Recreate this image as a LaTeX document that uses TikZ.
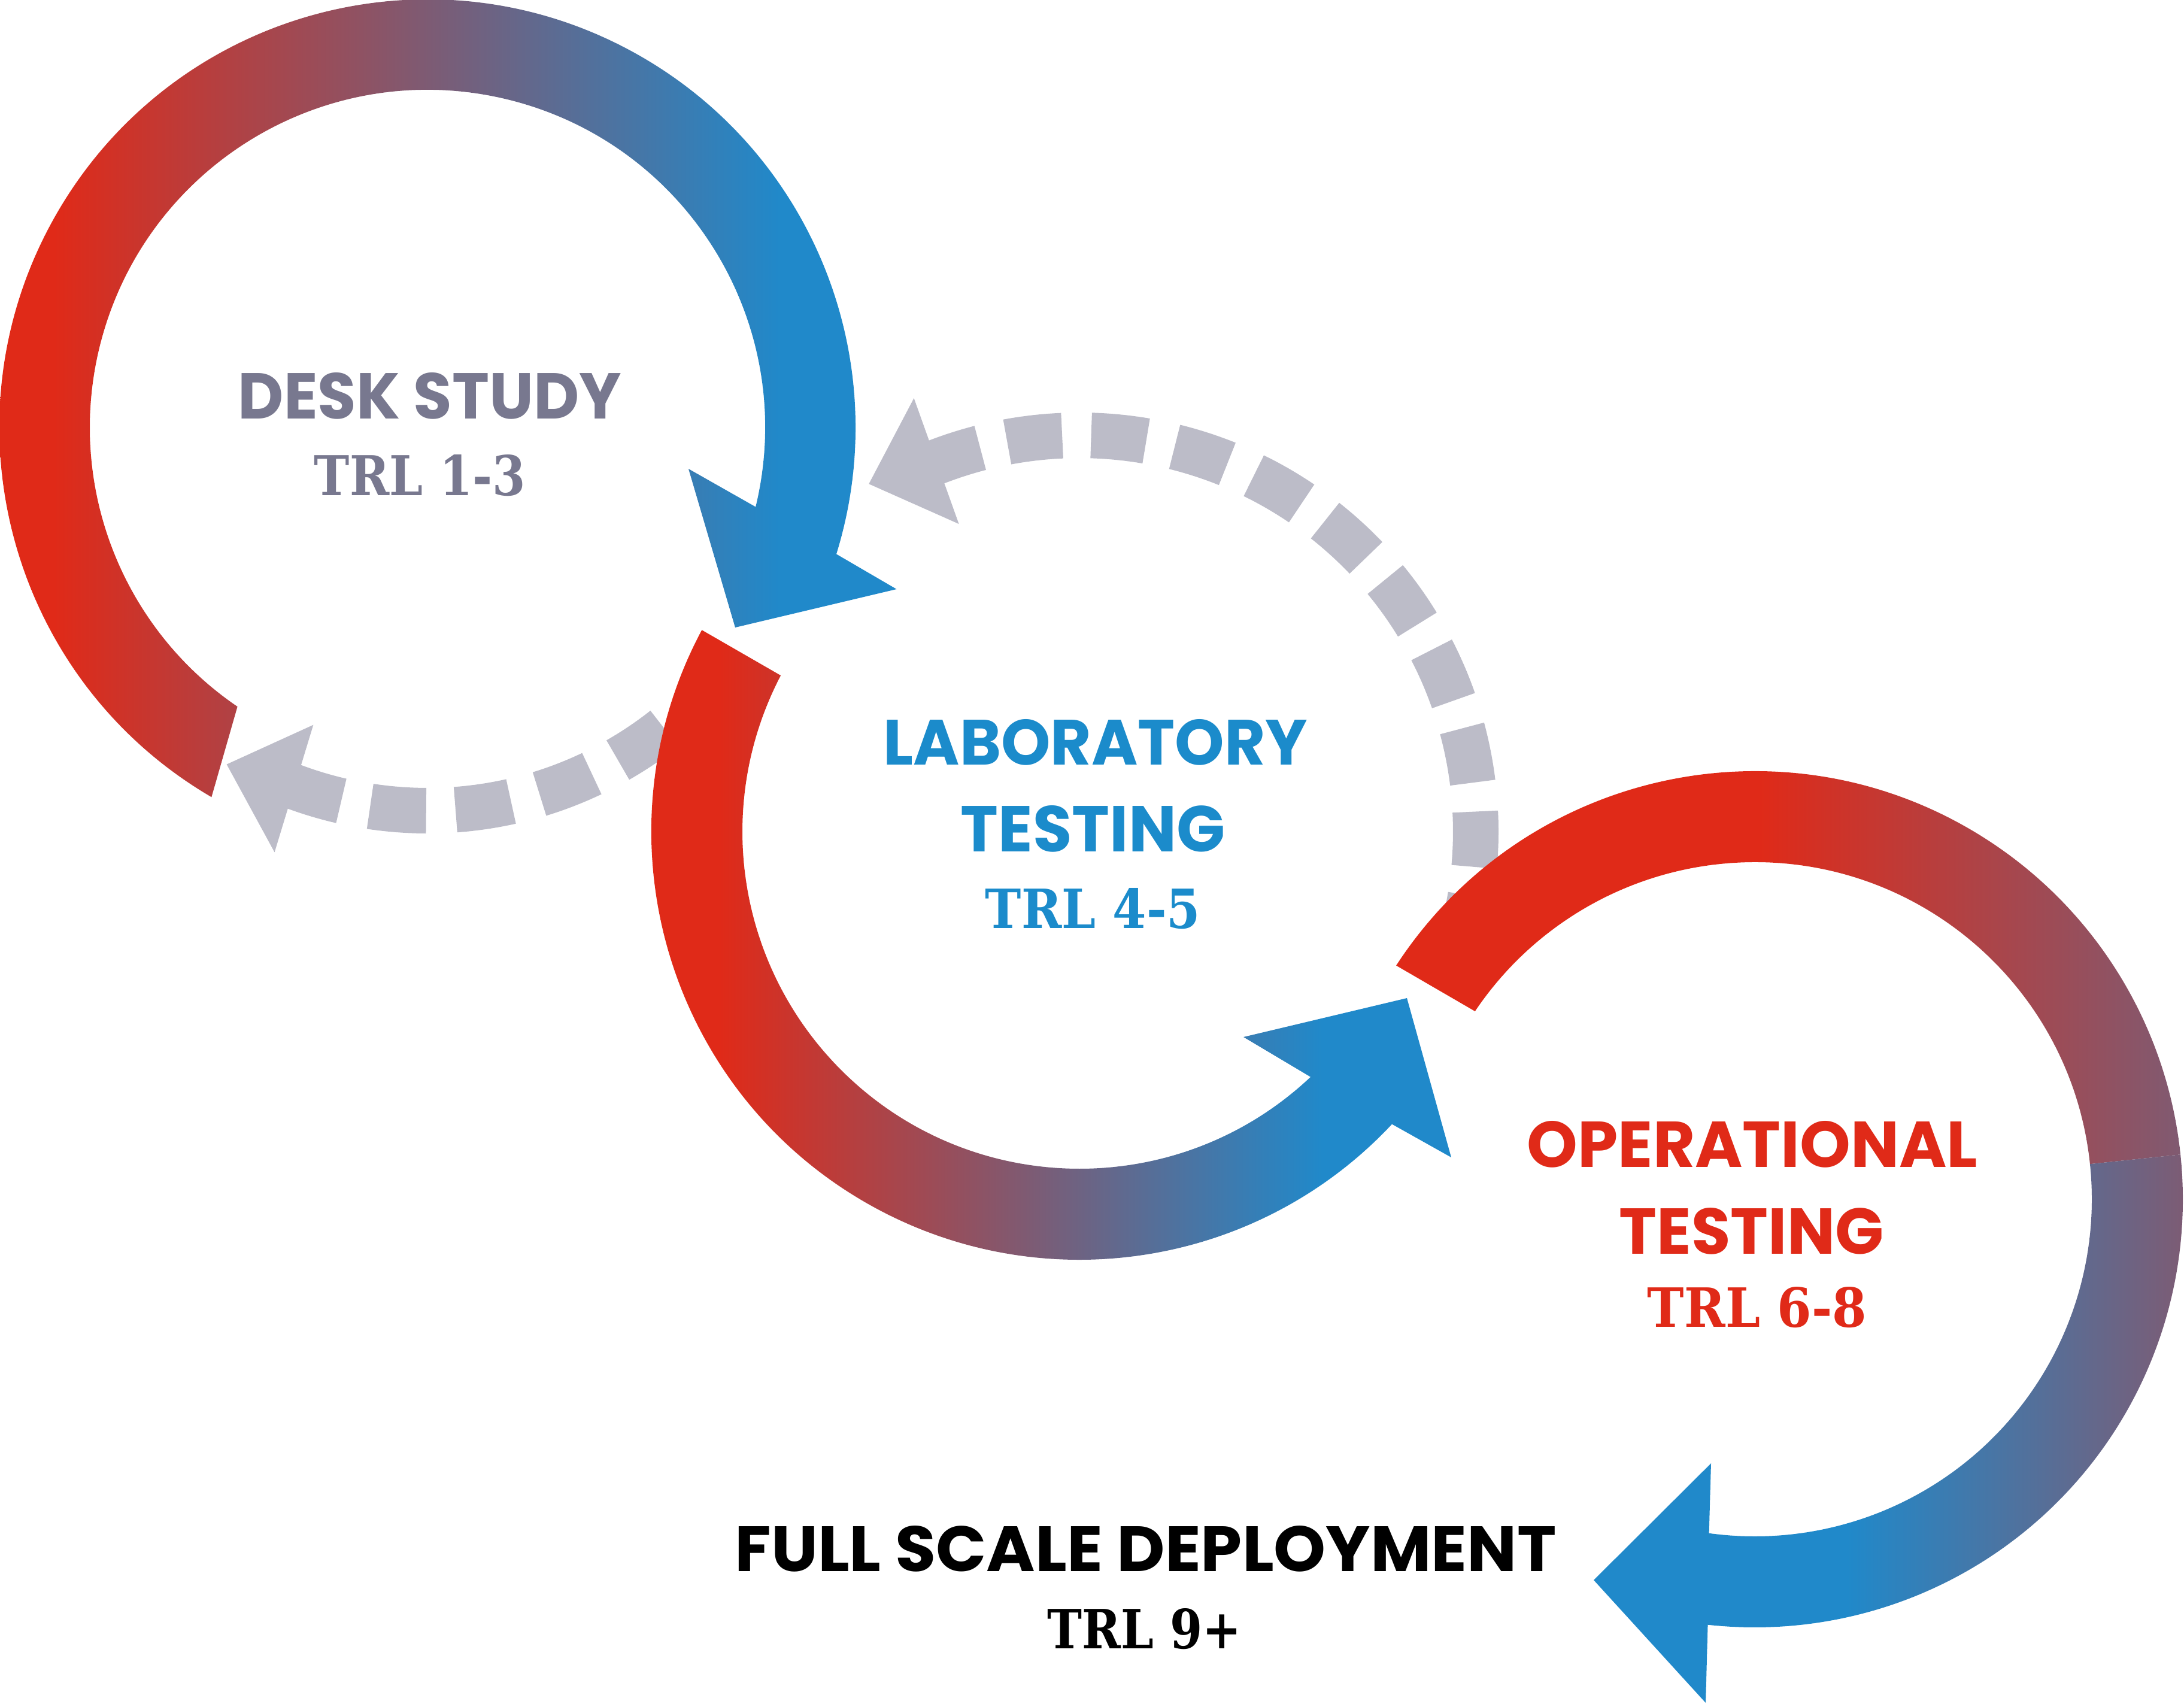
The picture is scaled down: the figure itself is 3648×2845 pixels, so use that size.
\documentclass[tikz,border=0pt]{standalone}
\usepackage{fontspec}
\usepackage{graphicx}
\usetikzlibrary{calc}
\newfontfamily\headfont{Poppins}
\newfontfamily\trlfont{DejaVu Serif}
\definecolor{myred}{RGB}{224,42,24}
\definecolor{myblue}{RGB}{32,137,202}
\definecolor{mypurple}{RGB}{128,90,113}
\definecolor{dashgrey}{RGB}{188,188,200}
\definecolor{deskgrey}{RGB}{120,120,143}
\definecolor{labblue}{RGB}{27,139,203}
\definecolor{opred}{RGB}{224,42,24}
\pgfdeclarehorizontalshading{rbone}{100bp}{color(0bp)=(myred); color(31bp)=(myred); color(69bp)=(myblue); color(100bp)=(myblue)}
\pgfdeclarehorizontalshading{rbtwo}{100bp}{color(0bp)=(myred); color(32.5bp)=(myred); color(67.5bp)=(myblue); color(100bp)=(myblue)}
\pgfdeclarehorizontalshading{cthreeup}{100bp}{color(0bp)=(myred); color(25bp)=(myred); color(48bp)=(myred); color(75bp)=(mypurple); color(100bp)=(mypurple)}
\pgfdeclarehorizontalshading{cthreelow}{100bp}{color(0bp)=(myblue); color(25bp)=(myblue); color(46bp)=(myblue); color(75bp)=(mypurple); color(100bp)=(mypurple)}
\tikzset{
  dashseg/.style={draw=dashgrey, line width=0.76cm, line cap=butt},
  headlbl/.style={inner sep=0pt, outer sep=0pt, anchor=south},
}
\begin{document}
\begin{tikzpicture}[x=0.01cm, y=0.01cm]
\useasboundingbox (0,0) rectangle (3648,-2845);
\coordinate (C1) at (714,-714);
\coordinate (C2) at (1803,-1389);
\coordinate (C3) at (2931,-2003);

% upper dashed return arrow (around C2)
\foreach \k in {0,...,9} {
  \pgfmathsetmacro\a{-(259.5+12.2*\k)}
  \pgfmathsetmacro\b{\a-8}
  \draw[dashseg] ($(C2)+(\a:662)$) arc[start angle=\a, end angle=\b, radius=662];
}
\draw[dashseg] ($(C2)+(-247.5:662)$) arc[start angle=-247.5, end angle=-255.5, radius=662];
\coordinate (ubarbA) at ($(C2)+(-249.1:775)$);
\coordinate (utip) at ($(C2)+(-238.8:679)$);
\coordinate (ubarbB) at ($(C2)+(-248.6:552)$);
\fill[dashgrey] (ubarbA) -- (utip) -- (ubarbB) -- cycle;

% lower dashed return arrow (around C1)
\foreach \k in {0,...,3} {
  \pgfmathsetmacro\a{-(51.8+12.8*\k)}
  \pgfmathsetmacro\b{\a-8.4}
  \draw[dashseg] ($(C1)+(\a:640)$) arc[start angle=\a, end angle=\b, radius=640];
}
\draw[dashseg] ($(C1)+(-103:640)$) arc[start angle=-103, end angle=-111.8, radius=640];
\coordinate (lbarbA) at ($(C1)+(-109.8:754)$);
\coordinate (ltip) at ($(C1)+(-120.8:655)$);
\coordinate (lbarbB) at ($(C1)+(-111:532)$);
\fill[dashgrey] (lbarbA) -- (ltip) -- (lbarbB) -- cycle;

% circle 1 : desk study
\coordinate (t1) at (1228,-1048);
\coordinate (b1a) at (1497.5,-984);
\coordinate (b1b) at (1150,-783);
\shade[shading=rbone] ($(C1)+(-120.3:715)$) arc[start angle=-120.3, end angle=-377.2, radius=715]
  -- (b1a) -- (t1) -- (b1b)
  -- ($(C1)+(-373.6:564)$) arc[start angle=-373.6, end angle=-124.25, radius=564] -- cycle;

% circle 2 : laboratory testing
\coordinate (t2) at (2350,-1667);
\coordinate (b2a) at (2424,-1933);
\coordinate (b2b) at (2077,-1732);
\shade[shading=rbtwo] ($(C2)+(-208.1:715)$) arc[start angle=-208.1, end angle=-43.1, radius=715]
  -- (b2a) -- (t2) -- (b2b)
  -- ($(C2)+(-46.7:563)$) arc[start angle=-46.7, end angle=-207.6, radius=563] -- cycle;

% circle 3 : operational testing
\shade[shading=cthreeup] ($(C3)+(-213.1:715)$) arc[start angle=-213.1, end angle=-354, radius=715]
  -- ($(C3)+(-354:563)$) arc[start angle=-354, end angle=-213.9, radius=563] -- cycle;
\coordinate (t3) at (2662,-2639);
\coordinate (b3a) at (2849,-2844);
\coordinate (b3b) at (2858,-2444);
\shade[shading=cthreelow] ($(C3)+(-354:715)$) arc[start angle=-354, end angle=-456.3, radius=715]
  -- (b3a) -- (t3) -- (b3b)
  -- ($(C3)+(-457.8:563)$) arc[start angle=-457.8, end angle=-354, radius=563] -- cycle;

% labels
\node[headlbl, text=deskgrey] (desk) at (718,-700) {\resizebox{6.40cm}{0.77cm}{\headfont\bfseries DESK STUDY}};
\node[headlbl, text=deskgrey] (desktrl) at (701.5,-829) {\resizebox{3.53cm}{0.68cm}{\trlfont\bfseries TRL 1-3}};
\node[headlbl, text=labblue] (lab1) at (1830,-1278) {\resizebox{7.08cm}{0.76cm}{\headfont\bfseries LABORATORY}};
\node[headlbl, text=labblue] (lab2) at (1825.5,-1423) {\resizebox{4.41cm}{0.77cm}{\headfont\bfseries TESTING}};
\node[headlbl, text=labblue] (labtrl) at (1825.5,-1552) {\resizebox{3.59cm}{0.67cm}{\trlfont\bfseries TRL 4-5}};
\node[headlbl, text=opred] (op1) at (2927,-1950) {\resizebox{7.52cm}{0.77cm}{\headfont\bfseries OPERATIONAL}};
\node[headlbl, text=opred] (op2) at (2925.5,-2095) {\resizebox{4.41cm}{0.77cm}{\headfont\bfseries TESTING}};
\node[headlbl, text=opred] (optrl) at (2935,-2218) {\resizebox{3.66cm}{0.67cm}{\trlfont\bfseries TRL 6-8}};
\node[headlbl, text=black] (full) at (1913.5,-2625) {\resizebox{13.71cm}{0.76cm}{\headfont\bfseries FULL SCALE DEPLOYMENT}};
\node[headlbl, text=black] (fulltrl) at (1912,-2755) {\resizebox{3.24cm}{0.67cm}{\trlfont\bfseries TRL 9+}};
\end{tikzpicture}
\end{document}
